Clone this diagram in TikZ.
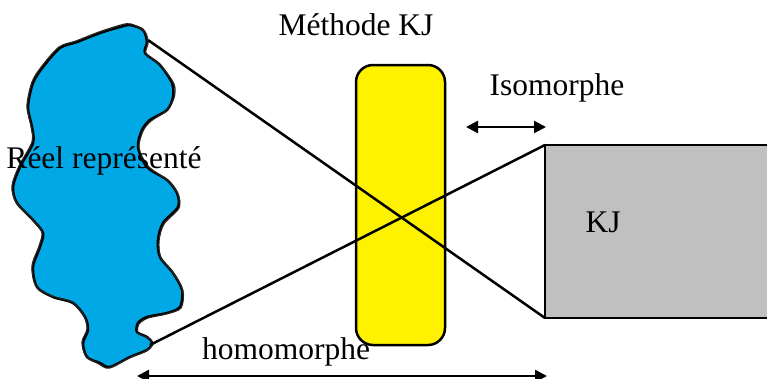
\documentclass[tikz,border=0pt]{standalone}
\usepackage{fontspec}
\setmainfont{Liberation Serif}
\usetikzlibrary{arrows.meta}
\definecolor{blobblue}{RGB}{0,168,230}
\definecolor{boxyellow}{RGB}{255,242,0}
\definecolor{boxgray}{RGB}{192,192,192}
\tikzset{
  lbl/.style={font=\fontsize{31.5}{36}\selectfont, inner sep=0pt},
  outline/.style={line width=2.5pt, black},
  dblarrow/.style={line width=2.5pt, {Triangle[length=12pt,width=12pt]}-{Triangle[length=12pt,width=12pt]}},
}
\begin{document}
\begin{tikzpicture}[x=1pt,y=-1pt]
\useasboundingbox (0,0) rectangle (767,378);
% blob
\draw[outline, fill=blobblue, line width=2.5pt, line join=round]
 plot[smooth cycle, tension=0.5] coordinates {
 (120,27) (130,25) (143,30) (147,42) (145,53) (160,65) (172,83) (173,97) (167,110)
 (150,120) (142,130) (138,147) (147,167) (167,180) (177,193) (178,207) (163,223)
 (158,240) (160,257) (173,273) (182,290) (180,307) (167,313) (147,317) (138,323)
 (137,332) (147,337) (152,343) (147,350) (130,357) (110,367) (100,363) (87,357)
 (83,343) (88,330) (85,317) (73,303) (53,297) (37,287) (33,267) (40,247) (43,233)
 (33,220) (17,203) (13,187) (20,167) (33,143) (32,127) (28,107) (33,83) (43,67)
 (60,48) (77,42) (100,33)};
\draw[line width=1.2pt, black!85]
 plot[smooth cycle, tension=0.5] coordinates {
 (121,25) (131,24) (145,32) (148,43) (146,54) (161,66) (174,84) (174,98) (166,111)
 (151,121) (143,131) (139,148) (148,166) (168,181) (178,194) (179,208) (164,224)
 (159,241) (161,258) (174,274) (183,291) (181,308) (166,314) (148,318) (139,324)
 (138,333) (148,338) (153,344) (146,351) (129,358) (109,368) (99,364) (86,356)
 (82,342) (87,329) (84,316) (72,302) (52,296) (36,286) (32,266) (39,246) (42,232)
 (32,219) (16,202) (12,186) (19,166) (32,142) (31,126) (27,106) (32,82) (42,66)
 (59,47) (76,41) (99,32)};
\coordinate (blobtop) at (148,40);
\coordinate (blobbot) at (150,345);
% yellow box
\node[draw, outline, fill=boxyellow, rounded corners=17pt, minimum width=89pt,
      minimum height=280pt, inner sep=0pt] (methode) at (400.5,205) {};
% gray box (extends past right edge)
\fill[boxgray] (545,145) rectangle (780,318);
\draw[outline] (780,145) -- (545,145) -- (545,318) -- (780,318);
\coordinate (kjtl) at (545,145);
\coordinate (kjbl) at (545,318);
% crossing lines
\draw[outline] (blobtop) -- (kjbl);
\draw[outline] (blobbot) -- (kjtl);
% labels
\node[lbl] (lmethode) at (356,25) {Méthode KJ};
\node[lbl] (liso) at (557,88) {Isomorphe};
\node[lbl] (lkj) at (603,222) {KJ};
\node[lbl] (lreel) at (104,161) {Réel représenté};
\node[lbl] (lhomo) at (286,352) {homomorphe};
% arrows
\coordinate (isoL) at (466,127);
\coordinate (isoR) at (546,127);
\draw[dblarrow] (isoL) -- (isoR);
\coordinate (homL) at (137,376);
\coordinate (homR) at (547,376);
\draw[dblarrow] (homL) -- (homR);
\end{tikzpicture}
\end{document}
